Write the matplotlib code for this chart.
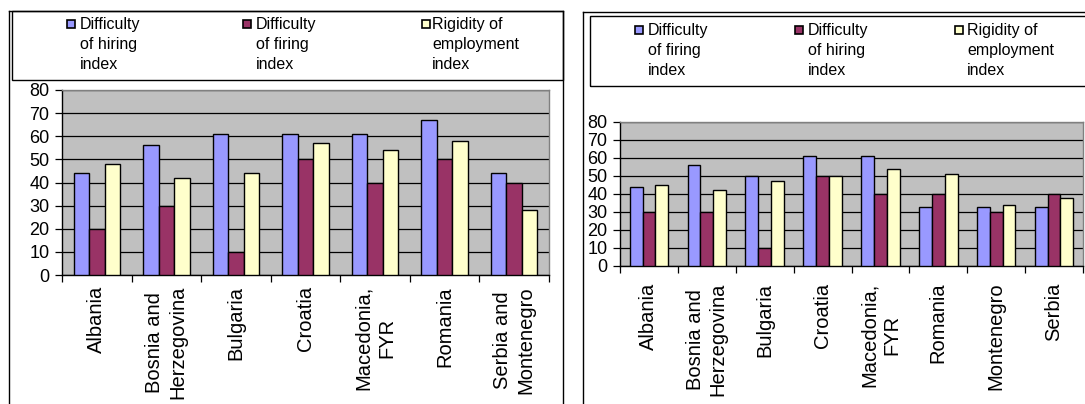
import matplotlib
matplotlib.use("Agg")
import matplotlib.pyplot as plt
import numpy as np
from matplotlib.patches import Rectangle
from matplotlib.lines import Line2D

plt.rcParams['font.family'] = ['Liberation Sans', 'DejaVu Sans']

# ---- data -------------------------------------------------------------
left_categories = ["Albania", "Bosnia and\nHerzegovina", "Bulgaria", "Croatia",
                   "Macedonia,\nFYR", "Romania", "Serbia and\nMontenegro"]
left_hiring = [44, 56, 61, 61, 61, 67, 44]
left_firing = [20, 30, 10, 50, 40, 50, 40]
left_rigidity = [48, 42, 44, 57, 54, 58, 28]
left_labels = ["Difficulty\nof hiring\nindex", "Difficulty\nof firing\nindex",
               "Rigidity of\nemployment\nindex"]

right_categories = ["Albania", "Bosnia and\nHerzegovina", "Bulgaria", "Croatia",
                    "Macedonia,\nFYR", "Romania", "Montenegro", "Serbia"]
right_firing = [44, 56, 50, 61, 61, 33, 33, 33]
right_hiring = [30, 30, 10, 50, 40, 40, 30, 40]
right_rigidity = [45, 42, 47, 50, 54, 51, 34, 38]
right_labels = ["Difficulty\nof firing\nindex", "Difficulty\nof hiring\nindex",
                "Rigidity of\nemployment\nindex"]

yticks = [0, 10, 20, 30, 40, 50, 60, 70, 80]
colors = ["#9999FF", "#993366", "#FFFFCC"]

W, H = 1085, 404
fig = plt.figure(figsize=(W / 100, H / 100), dpi=100)
fig.patch.set_facecolor("white")


def fx(px):
    return px / W


def fy(py):
    return 1 - py / H


def hline(x0, x1, y, lw=1.0, color="black"):
    fig.add_artist(Line2D([fx(x0), fx(x1)], [fy(y), fy(y)],
                          transform=fig.transFigure, color=color, lw=lw))


def vline(x, y0, y1, lw=1.0, color="black"):
    fig.add_artist(Line2D([fx(x), fx(x)], [fy(y0), fy(y1)],
                          transform=fig.transFigure, color=color, lw=lw))


def box(x0, y0, x1, y1, lw=1.0):
    fig.add_artist(Rectangle((fx(x0), fy(y1)), fx(x1) - fx(x0), fy(y0) - fy(y1),
                             transform=fig.transFigure, fill=False,
                             edgecolor="black", lw=lw))


def draw_chart(rect_px, categories, series, label_pad):
    x0, y0, x1, y1 = rect_px
    ax = fig.add_axes([fx(x0), fy(y1), fx(x1) - fx(x0), fy(y0) - fy(y1)])
    ax.set_facecolor("#C0C0C0")
    n = len(categories)
    idx = np.arange(n)
    w = 1 / 4.5
    for k, (vals, c) in enumerate(zip(series, colors)):
        ax.bar(idx + (k - 1) * w, vals, width=w, color=c, edgecolor="black",
               linewidth=1.0, zorder=3)
    ax.set_xlim(-0.5, n - 0.5)
    ax.set_ylim(0, 80)
    ax.set_yticks(yticks)
    ax.yaxis.grid(True, color="black", lw=0.9, zorder=1)
    ax.set_axisbelow(True)
    ax.tick_params(axis="y", direction="out", length=5, width=0.9, pad=4,
                   labelsize=13)
    ax.set_xticks(idx)
    ax.set_xticklabels(categories, rotation=90, ha="center", va="top",
                       multialignment="center", fontsize=14.5, linespacing=1.25)
    ax.tick_params(axis="x", length=0, pad=label_pad)
    ax.set_xticks(np.arange(n + 1) - 0.5, minor=True)
    ax.tick_params(axis="x", which="minor", direction="out", length=5, width=0.9)
    for s in ("top", "right"):
        ax.spines[s].set_color("#808080")
        ax.spines[s].set_linewidth(1.0)
    for s in ("left", "bottom"):
        ax.spines[s].set_color("black")
        ax.spines[s].set_linewidth(1.0)
    return ax


def draw_legend(labels, marker_x, text_x, y_first):
    for lab, mx, tx, c in zip(labels, marker_x, text_x, colors):
        fig.add_artist(Rectangle((fx(mx), fy(y_first + 4)), fx(8), 8 / H,
                                 transform=fig.transFigure, facecolor=c,
                                 edgecolor="black", lw=1.2))
        fig.text(fx(tx), fy(y_first - 7), lab, ha="left", va="top",
                 fontsize=11.5, linespacing=1.4)


# ---- left chart -------------------------------------------------------
vline(9, 11, 405)
hline(9, 563, 11)
vline(563, 11, 405)
box(12, 11, 563, 80)
draw_legend(left_labels, [67, 243, 422], [80, 256, 432], 24)
draw_chart((62, 90, 549, 275), left_categories,
           [left_hiring, left_firing, left_rigidity], label_pad=8)

# ---- right chart ------------------------------------------------------
vline(583, 12, 405)
hline(583, 1090, 12)
box(590, 16, 1090, 86)
draw_legend(right_labels, [635, 795, 955], [648, 808, 967], 30)
draw_chart((620, 122, 1083, 266), right_categories,
           [right_firing, right_hiring, right_rigidity], label_pad=12)

fig.savefig("out.png", dpi=100)
